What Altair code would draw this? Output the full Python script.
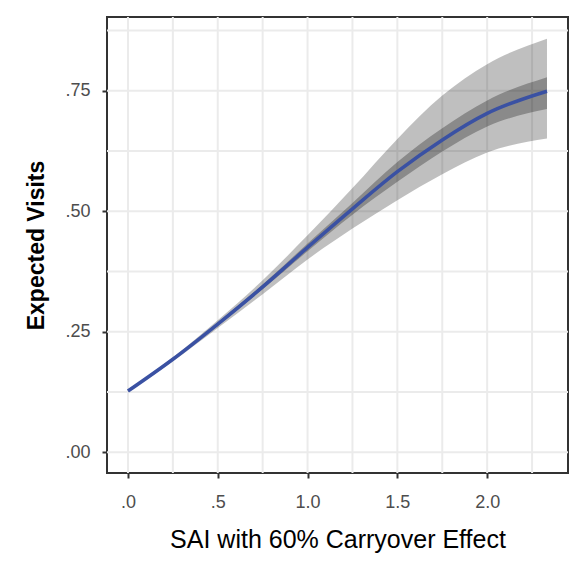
import altair as alt
import pandas as pd

# SAI values (x) and model estimates
sai = [0.0, 0.25, 0.5, 0.75, 1.0, 1.25, 1.5, 1.75, 2.0, 2.333]
fit = [0.127, 0.193, 0.266, 0.343, 0.425, 0.505, 0.582, 0.648, 0.703, 0.749]
outer_hi = [0.129, 0.197, 0.274, 0.357, 0.450, 0.548, 0.650, 0.740, 0.805, 0.858]
outer_lo = [0.125, 0.189, 0.258, 0.328, 0.400, 0.464, 0.523, 0.577, 0.622, 0.651]
inner_hi = [0.128, 0.194, 0.269, 0.348, 0.433, 0.517, 0.602, 0.672, 0.730, 0.778]
inner_lo = [0.126, 0.192, 0.263, 0.338, 0.417, 0.493, 0.561, 0.624, 0.676, 0.712]

x_ticks = [0.0, 0.5, 1.0, 1.5, 2.0]
y_ticks = [0.0, 0.25, 0.5, 0.75]
grid_x = [0.0, 0.25, 0.5, 0.75, 1.0, 1.25, 1.5, 1.75, 2.0, 2.25]
grid_y = [0.0, 0.125, 0.25, 0.375, 0.5, 0.625, 0.75, 0.875]

df = pd.DataFrame({"sai": sai, "fit": fit, "ohi": outer_hi, "olo": outer_lo,
                   "ihi": inner_hi, "ilo": inner_lo})
gx = pd.DataFrame({"sai": grid_x})
gy = pd.DataFrame({"fit": grid_y})

XDOM = [-0.1167, 2.45]
YDOM = [-0.043, 0.903]
FONT = "Liberation Sans"

xscale = alt.Scale(domain=XDOM, nice=False, zero=False)
yscale = alt.Scale(domain=YDOM, nice=False, zero=False)

xaxis = alt.Axis(values=x_ticks, grid=False, domain=False, tickSize=5, tickWidth=2,
                 tickColor="#333333", labelFontSize=18, labelColor="#4d4d4d",
                 labelFont=FONT, labelPadding=15,
                 labelExpr="datum.value < 1 ? slice(format(datum.value, '.1f'), 1) : format(datum.value, '.1f')",
                 title="SAI with 60% Carryover Effect", titleFont=FONT, titleFontSize=25,
                 titleFontWeight="normal", titleColor="#000000", titleBaseline="alphabetic",
                 titleY=74, titleX=230.5, titleAnchor="middle")
yaxis = alt.Axis(values=y_ticks, grid=False, domain=False, tickSize=5, tickWidth=2,
                 tickColor="#333333", labelFontSize=18, labelColor="#4d4d4d",
                 labelFont=FONT, labelPadding=12,
                 labelExpr="datum.value < 1 ? slice(format(datum.value, '.2f'), 1) : format(datum.value, '.2f')",
                 title="Expected Visits", titleFont=FONT, titleFontSize=23,
                 titleFontWeight="bold", titleColor="#000000", titleBaseline="alphabetic",
                 titleX=-64, titleY=228, titleAngle=270, titleAnchor="middle")

X = alt.X("sai:Q", scale=xscale, axis=xaxis)
Y = alt.Y("fit:Q", scale=yscale, axis=yaxis)

vgrid = alt.Chart(gx).mark_rule(color="#ebebeb", strokeWidth=2).encode(x=X)
hgrid = alt.Chart(gy).mark_rule(color="#ebebeb", strokeWidth=2).encode(y=Y)

outer = alt.Chart(df).mark_area(color="#000000", opacity=0.25, interpolate="monotone").encode(
    x=X, y=alt.Y("olo:Q", scale=yscale, axis=yaxis), y2="ohi:Q")
inner = alt.Chart(df).mark_area(color="#000000", opacity=0.28, interpolate="monotone").encode(
    x=X, y=alt.Y("ilo:Q", scale=yscale, axis=yaxis), y2="ihi:Q")
line = alt.Chart(df).mark_line(color="#3a51a3", strokeWidth=3.5, interpolate="monotone").encode(
    x=X, y=Y)

chart = alt.layer(vgrid, hgrid, outer, inner, line).properties(
    width=461, height=456,
    autosize=alt.AutoSizeParams(type="none"),
    padding={"left": 99, "top": 9, "right": 7, "bottom": 83},
    background="white",
).configure_view(stroke="#333333", strokeWidth=2)

chart.save("out.html", embed_options={"renderer": "svg", "actions": False})
